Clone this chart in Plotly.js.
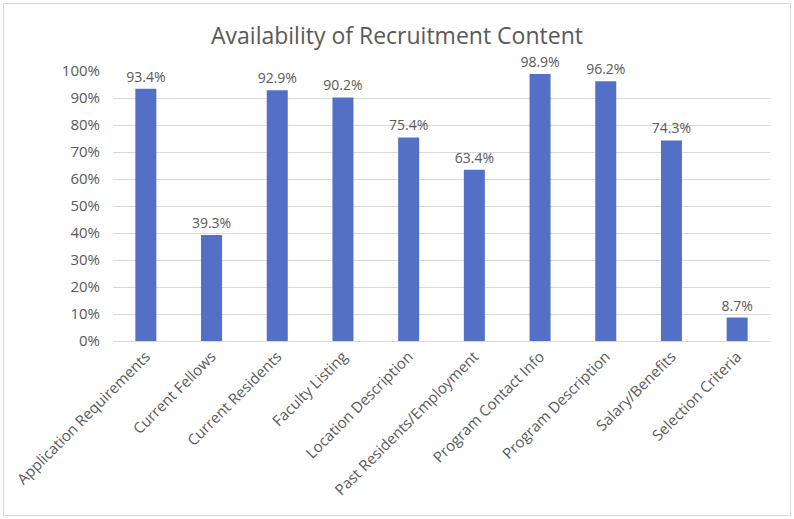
<!DOCTYPE html>
<html>
<head>
<meta charset="utf-8">
<script src="https://cdn.plot.ly/plotly-3.0.1.min.js"></script>
<style>
html,body{margin:0;padding:0;background:#fff;}
#wrap{position:relative;width:794px;height:519px;}
#chart{position:absolute;left:0;top:0;width:794px;height:519px;}
#border{position:absolute;left:3px;top:3px;width:786px;height:511px;border:1px solid #d9d9d9;pointer-events:none;}
</style>
</head>
<body>
<div id="wrap"><div id="chart"></div><div id="border"></div></div>
<script>
const categories = ["Application Requirements","Current Fellows","Current Residents","Faculty Listing","Location Description","Past Residents/Employment","Program Contact Info","Program Description","Salary/Benefits","Selection Criteria"];
const values = [93.4, 39.3, 92.9, 90.2, 75.4, 63.4, 98.9, 96.2, 74.3, 8.7];
const labels = ["93.4%","39.3%","92.9%","90.2%","75.4%","63.4%","98.9%","96.2%","74.3%","8.7%"];
const tickVals = [0,10,20,30,40,50,60,70,80,90,100];
const tickText = ["0%","10%","20%","30%","40%","50%","60%","70%","80%","90%","100%"];

const font = "'Open Sans', 'Liberation Sans', sans-serif";
const gray = "#595959";

Plotly.newPlot("chart", [{
  type: "bar",
  x: categories,
  y: values,
  text: labels,
  textposition: "outside",
  constraintext: "none",
  textfont: {family: font, size: 14, color: gray},
  cliponaxis: false,
  marker: {color: "#5470c6"},
  hoverinfo: "none"
}], {
  width: 794, height: 519,
  margin: {l: 113, r: 24, t: 71, b: 178},
  paper_bgcolor: "#fff", plot_bgcolor: "#fff",
  bargap: 0.68,
  showlegend: false,
  title: {text: "Availability of Recruitment Content", x: 0.5, xanchor: "center", y: 0.93, yanchor: "middle",
          font: {family: font, size: 23, color: gray}},
  xaxis: {
    tickangle: -45, tickfont: {family: font, size: 15, color: gray},
    showline: true, linecolor: "#d9d9d9", linewidth: 1, ticks: "", showgrid: false,
    automargin: false
  },
  yaxis: {
    range: [0, 100], tickvals: tickVals, ticktext: tickText,
    tickfont: {family: font, size: 15, color: gray},
    showgrid: true, gridcolor: "#d9d9d9", gridwidth: 1, zeroline: false,
    showline: false, ticks: "", ticklen: 0, ticklabelstandoff: 12, automargin: false
  }
}, {displayModeBar: false, staticPlot: true});
</script>
</body>
</html>
